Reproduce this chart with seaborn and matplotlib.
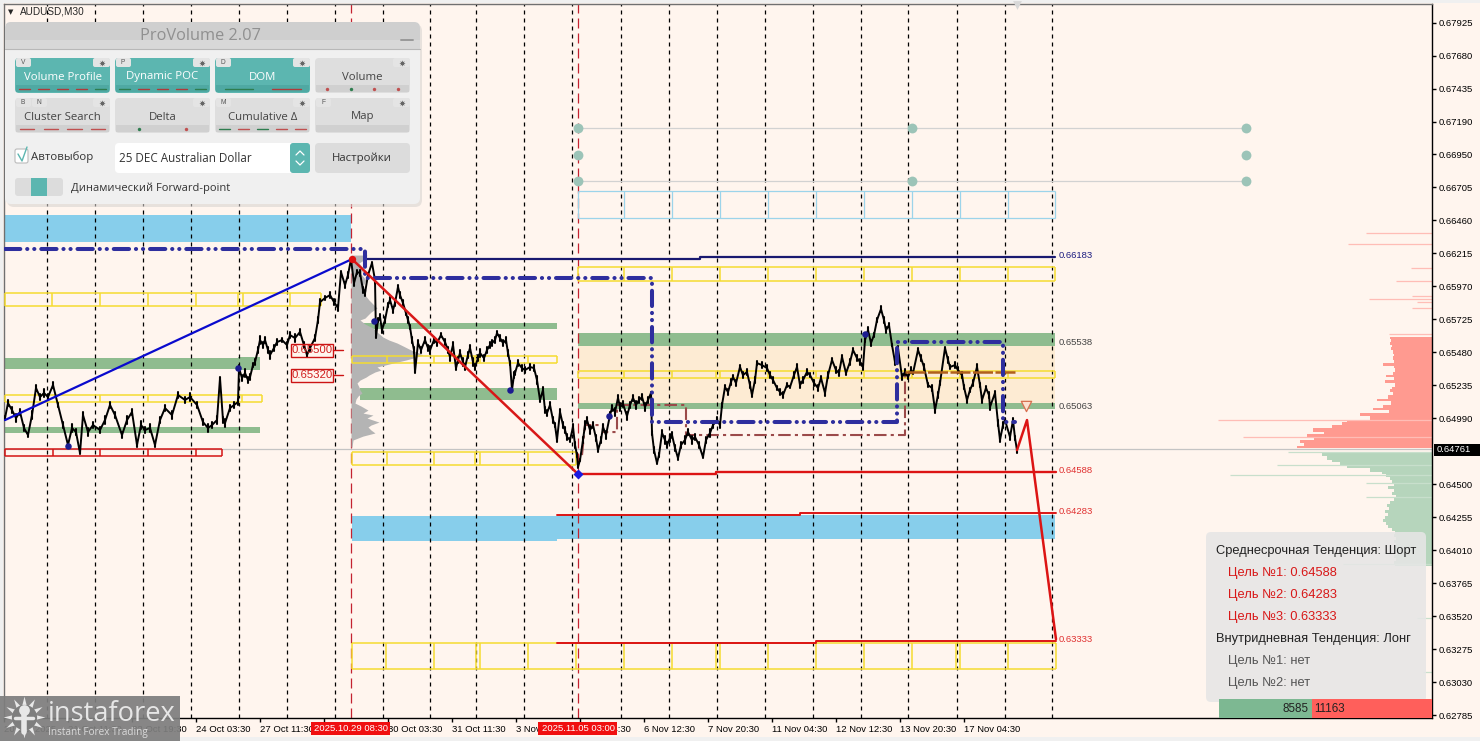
import numpy as np
import pandas as pd
import matplotlib
matplotlib.use("Agg")
import matplotlib.pyplot as plt
from matplotlib.patches import FancyBboxPatch, Rectangle
import seaborn as sns

# ---- price series (bar position, close) ----
bar_x = [5,8,12,16,20,24,28,32,36,40,44,48,53,58,63,68,72,76,80,83,88,93,100,105,110,115,122,127,132,137,141,145,150,155,160,165,172,178,185,190,197,203,208,212,217,220,223,225,230,234,238,
         239,242,245,248,250,253,255,258,260,263,265,268,270,274,277,282,287,290,295,300,304,307,310,315,318,320,325,330,334,338,341,345,348,351,
         354,357,360,363,365,368,372,375,376,378,380,382,385,388,390,393,395,398,400,403,406,408,410,412,414,415,418,421,425,428,430,434,437,441,445,448,450,453,456,458,460,463,465,468,470,473,475,478,480,484,487,490,492,495,497,500,503,506,508,510,512,514,515,518,522,525,530,534,537,540,543,545,547,550,553,555,557,560,563,565,567,570,573,575,577,578,
         580,583,585,587,590,593,596,598,601,603,606,610,612,615,618,620,623,627,630,633,636,639,642,645,648,651,652,654,657,659,662,665,667,670,672,675,678,681,685,688,692,695,699,703,706,710,713,717,720,722,725,728,731,733,736,740,743,747,750,752,755,757,762,767,770,773,777,780,783,787,790,794,797,800,803,807,810,814,818,821,825,828,832,836,839,842,846,850,853,857,860,863,865,868,871,874,877,881,884,886,889,892,895,898,902,905,908,911,913,918,921,924,928,932,935,938,940,945,948,950,955,958,962,964,967,970,973,977,980,982,986,989,990,995,998,1000,1003,1005,1010,1013,1015,1017]
close = [.64990,.65101,.65049,.64990,.65035,.64916,.64864,.65012,.65213,.65146,.65176,.65146,.65235,.65087,.64938,.64790,.64916,.64886,.64730,.65012,.64886,.64938,.64901,.64975,.65087,.65012,.64864,.64975,.65035,.64790,.64938,.64901,.64916,.64790,.64975,.65064,.65012,.65161,.65124,.65146,.65087,.64960,.64916,.64938,.64975,.65287,.64975,.64953,.65064,.65087,.65109,
         .65361,.65287,.65324,.65272,.65294,.65383,.65406,.65495,.65569,.65532,.65569,.65495,.65458,.65510,.65554,.65569,.65532,.65606,.65584,.65629,.65532,.65458,.65510,.65584,.65718,.65851,.65881,.65903,.65851,.65807,.66074,.65977,.66052,.66170,
         .65992,.66074,.66067,.65940,.65918,.66052,.66141,.66015,.65591,.65718,.65740,.65643,.65718,.65829,.65866,.65792,.65844,.65963,.65903,.65844,.65770,.65718,.65666,.65569,.65495,.65332,.65547,.65495,.65569,.65510,.65495,.65569,.65547,.65606,.65554,.65495,.65443,.65532,.65361,.65421,.65473,.65406,.65369,.65458,.65510,.65406,.65369,.65435,.65473,.65435,.65495,.65532,.65547,.65569,.65621,.65584,.65547,.65569,.65473,.65398,.65198,.65309,.65324,.65398,.65361,.65346,.65369,.65361,.65272,.65124,.65198,.65049,.65027,.65087,.64975,.64938,.64827,.65035,.64938,.64901,.64849,.64827,.64923,.64790,.64715,.64626,
         .64678,.64827,.64938,.64975,.64901,.64938,.64842,.64752,.64827,.64923,.64864,.65012,.65064,.65035,.65139,.65072,.65094,.65005,.65087,.65139,.65087,.65124,.65146,.65072,.65124,.65176,.64879,.64752,.64656,.64715,.64879,.64827,.64790,.64842,.64864,.64768,.64693,.64790,.64827,.64886,.64827,.64849,.64790,.64700,.64827,.64879,.64938,.64975,.64938,.65087,.65220,.65183,.65258,.65294,.65250,.65369,.65309,.65332,.65235,.65161,.65272,.65398,.65383,.65361,.65309,.65272,.65213,.65183,.65161,.65235,.65220,.65309,.65369,.65235,.65272,.65332,.65309,.65250,.65213,.65287,.65176,.65309,.65421,.65346,.65324,.65443,.65324,.65406,.65495,.65435,.65406,.65369,.65569,.65643,.65547,.65606,.65718,.65799,.65718,.65643,.65680,.65532,.65406,.65510,.65294,.65332,.65294,.65346,.65324,.65495,.65435,.65369,.65235,.65213,.65049,.65161,.65250,.65510,.65421,.65369,.65383,.65346,.65309,.65220,.65124,.65198,.65250,.65369,.65235,.65124,.65213,.65161,.65072,.65176,.64953,.64827,.64938,.64975,.64849,.64975,.64842,.64752]
# candle half range per bar, in points (x 1e-5)
wick = [15,20,25,30,20,25,15,30,20,25,30,20,25,15,25,20,30,25,10,25,30,20,25,30,20,25,20,30,25,15,30,25,30,15,25,20,30,20,25,30,25,20,30,25,30,10,25,30,20,25,20,
        20,25,30,20,25,15,20,25,30,25,20,25,30,20,25,15,25,20,30,20,25,15,25,20,20,25,15,25,20,25,10,25,20,10,
        20,15,25,20,25,15,10,20,10,15,25,20,25,15,20,25,20,15,25,20,15,20,15,20,25,10,20,25,20,25,30,20,25,15,25,20,30,25,15,25,20,30,25,20,25,30,20,25,30,25,20,25,20,25,15,20,25,20,25,15,10,20,15,20,25,20,25,20,30,15,25,20,20,25,20,15,15,20,25,20,25,15,20,25,15,10,
        10,20,30,25,30,25,20,15,25,20,30,25,20,30,25,30,25,30,25,20,30,25,20,30,25,10,15,20,10,15,25,30,25,30,25,20,15,25,30,25,30,25,20,10,25,30,25,20,25,15,15,25,20,15,20,15,20,25,20,15,25,15,25,20,25,20,15,25,20,15,10,20,25,20,25,20,15,25,20,15,25,20,15,25,20,15,15,25,15,20,25,20,15,20,25,15,15,20,25,20,15,10,20,15,20,25,15,20,10,15,20,25,15,20,25,20,15,10,20,15,25,20,25,15,20,15,20,25,15,20,15,25,20,15,20,15,25,15,20,15,15,20,15,20,25,15,20,15]

# axis ticks
price_ticks = [.67925,.67680,.67435,.67190,.66950,.66705,.66460,.66215,.65970,.65725,.65480,.65235,.64990,.64500,.64255,.64010,.63765,.63520,.63275,.63030,.62785]
date_pos = [4,68,132,196,260,324,388,452,516,580,644,708,772,836,900,964]
date_labels = ["20 Oct 2025","21 Oct 11:30","22 Oct 19:30","24 Oct 03:30","27 Oct 11:30","28 Oct 19:30","30 Oct 03:30","31 Oct 11:30",
               "3 Nov 19:30","5 Nov 04:30","6 Nov 12:30","7 Nov 20:30","11 Nov 04:30","12 Nov 12:30","13 Nov 20:30","17 Nov 04:30"]
grid_x = [47,95,143,191,239,287,335,383,430,476,524,572,621,669,717,765,813,861,908,957,1005,1052]
session_x = [351,578]
session_labels = ["2025.10.29 08:30","2025.11.05 03:00"]
last_price = 0.64761

# trend paths
up_x, up_y = [5,352], [.64975,.66170]
down_x, down_y = [352,578], [.66170,.64574]
fc_x, fc_y = [1017,1027,1056], [.64752,.64975,.63348]
poc_x = [5,365,365,380,652,652,897,897,1003,1003,1015]
poc_y = [.66245,.66245,.66029,.66029,.66029,.64960,.64960,.65554,.65554,.64960,.64960]
dpoc_x = [582,585,603,603,617,617,686,686,905,905]
dpoc_y = [.64715,.64938,.64938,.64886,.64886,.65087,.65087,.64864,.64864,.65331]
vwap_x, vwap_y = [905,1015], [.65331,.65331]

# target levels
navy_x, navy_y = [365,700,700,1055], [.66170,.66170,.66183,.66183]
t1_x, t1_y = [578,716,716,1056], [.64574,.64574,.64588,.64588]
t2_x, t2_y = [557,800,800,1056], [.64270,.64270,.64283,.64283]
t3_x, t3_y = [557,816,816,1056], [.63320,.63320,.63333,.63333]
level_labels = ["0.66183","0.65538","0.65063","0.64588","0.64283","0.63333"]
level_pos = [.66198,.65552,.65078,.64602,.64298,.63348]
level_cols = ["#1c1c80","#444444","#444444","#e03030","#e03030","#e03030"]

# zones: x0, x1, low, high
blue_zones = [(5,351,.66297,.66497),(352,557,.64077,.64262),(557,1055,.64092,.64270)]
green_zones = [(5,238,.65354,.65435),(238,260,.65346,.65442),(5,260,.64879,.64923),(360,557,.65651,.65695),(360,557,.65124,.65213),
               (578,1055,.65525,.65621),(578,1055,.65057,.65101)]
cream_zone = (578,1055,.65101,.65525)

# yellow / blue / red box rows
row_a = [5,52,100,148,196,238,243,290,321]
row_b = [5,100,148,238,242,262]
row_c = [352,387,434,475,480,528,557]
row_d = [352,387,434,475,480,528,576]
row_e = [578,624,672,720,768,816,864,912,960,1008,1055]
row_f = [578,624,672,716,720,768,816,864,912,960,1008,1055]
row_g = [352,386,434,476,480,528,576,624,672,716,720,768,816,864,912,956,960,1008,1056]
row_h = [578,624,672,720,768,816,864,912,960,1008,1055]
row_red = [5,53,100,148,196,222]

# grey volume profile at the 29 Oct session
prof_price = [.66200,.66170,.66141,.66104,.66059,.66015,.65970,.65940,.65903,.65866,.65836,.65807,.65777,.65755,.65732,.65718,.65688,.65658,.65629,.65591,.65569,.65547,.65525,.65495,.65473,.65458,.65435,.65421,.65398,.65369,.65346,.65332,.65309,.65294,.65272,.65250,.65220,.65198,.65176,.65153,.65131,.65101,.65079,.65049,.65027,.65012,.64990,.64960,.64938,.64923,.64901,.64879,.64856,.64827,.64775]
prof_vol = [16,14,8,12,10,15,12,15,14,18,22,26,20,17,14,9,14,22,26,32,38,46,52,60,68,72,62,55,42,26,30,24,18,15,9,6,8,9,11,7,5,4,10,17,12,22,16,28,20,17,20,24,12,2,1]

# DOM on the right edge
ask_price = [.65591,.65569,.65547,.65525,.65503,.65480,.65458,.65436,.65413,.65391,.65369,.65347,.65324,.65302,.65280,.65258,.65235,.65213,.65191,.65169,.65146,.65124,.65102,.65079,.65057,.65035,.65013,.64990,.64968,.64946,.64924,.64901,.64879,.64857,.64835,.64812,.64790,.64768]
ask_size = [42,41,42,40,41,39,38,39,38,49,38,37,39,46,38,47,37,40,42,39,44,55,41,49,59,43,72,62,85,90,100,119,108,125,118,132,128,135]
ask_spike_p = [.66363,.66282,.66104,.66007,.65873,.65896,.65807,.65851,.65614,.64975,.64849]
ask_spike_s = [66,84,21,36,63,20,20,15,43,214,189]
bid_price = [.64738,.64716,.64693,.64671,.64649,.64627,.64604,.64582,.64560,.64538,.64515,.64493,.64471,.64449,.64426,.64404,.64382,.64360,.64337,.64315,.64293,.64271,.64248,.64226,.64204,.64182,.64159,.64137,.64115,.64093,.64070,.64048,.64026,.64004,.63981,.63959,.63937,.63915,.63892]
bid_size = [116,110,105,100,92,85,62,50,46,42,40,38,44,38,40,36,38,42,45,43,47,44,47,49,46,44,40,37,38,36,38,36,38,36,35,38,36,38,37]
bid_spike_p = [.64738,.64641,.64567,.64507,.64404,.63906,.63505,.63104]
bid_spike_s = [144,155,202,66,66,89,15,9]
dom_totals = [8585,11163]

# misc marks
dot_x = [68,238,374,510,609,865]
dot_y = [.64782,.65361,.65710,.65198,.65005,.65613]
ctrl_x = [578,912,1246,578,1246,578,912,1246]
ctrl_y = [.67143,.67143,.67143,.66943,.66943,.66750,.66750,.66750]

sns.set_theme(style="white")
plt.rcParams['font.family'] = ['Liberation Sans', 'DejaVu Sans']
bg = "#FFF5EE"
fig = plt.figure(figsize=(14.8, 7.41), dpi=100, facecolor=bg)
ax = fig.add_axes([4/1480, 1-718/741, 1428/1480, 714/741], facecolor=bg)
ax.set_xlim(4, 1432)
ax.set_ylim(0.62763, 0.68064)

for x0, x1, lo, hi in blue_zones:
    ax.fill_between([x0,x1], lo, hi, color="#87CEEB", lw=0, zorder=1)
ax.fill_between(cream_zone[:2], cream_zone[2], cream_zone[3], color="#FDEBD3", lw=0, zorder=1)
for x0, x1, lo, hi in green_zones:
    ax.fill_between([x0,x1], lo, hi, color="#8FBC8F", lw=0, zorder=1)

ax.vlines(grid_x, 0.62763, 0.68064, color="black", lw=0.9, linestyles=(0,(3.2,3.2)), zorder=2)
ax.vlines(session_x, 0.62763, 0.68064, color="#C42230", lw=0.9, linestyles=(0,(8,4)), zorder=2)
ax.axhline(last_price, color="#C4C4C4", lw=0.9, zorder=2)

# ctrl lines and dots
ax.hlines([.67143,.66750], 578, 1246, color="#D2D2D2", lw=0.9, zorder=2)
ax.scatter(ctrl_x, ctrl_y, s=50, color="#9CC4B8", lw=0, zorder=3)

# volume profile
ax.fill_betweenx(prof_price, 351, np.array(prof_vol)+351, color="#B4B4B4", lw=0, zorder=2)

# right hand DOM
ax.fill_betweenx(ask_price, 1432-np.array(ask_size), 1432, step="mid", color="#FF9A90", lw=0, zorder=2)
ax.fill_betweenx(bid_price, 1432-np.array(bid_size), 1432, step="mid", color="#B6D5BC", lw=0, zorder=2)
ax.hlines(ask_spike_p, 1432-np.array(ask_spike_s), 1432, color="#FFBDB6", lw=0.9, zorder=2)
ax.hlines(bid_spike_p, 1432-np.array(bid_spike_s), 1432, color="#C8DFCC", lw=0.9, zorder=2)

def box_row(breaks, lo, hi, col, lw=1.1):
    ax.hlines([lo,hi], breaks[0], breaks[-1], color=col, lw=lw, zorder=3)
    ax.vlines(breaks, lo, hi, color=col, lw=lw, zorder=3)

yel = "#F5DC30"
box_row(row_a, .65822, .65918, yel)
box_row(row_b, .65109, .65161, yel)
box_row(row_c, .65398, .65450, yel)
box_row(row_d, .64641, .64738, yel)
box_row(row_e, .66007, .66111, yel)
box_row(row_f, .65287, .65339, yel)
box_row(row_g, .63127, .63320, yel)
box_row(row_h, .66475, .66675, "#9CD4EA", lw=0.9)
box_row(row_red, .64708, .64760, "#D41414")

# price
sns.lineplot(x=bar_x, y=close, color="black", lw=1.4, sort=False, estimator=None, errorbar=None, ax=ax, zorder=5)
for xx, cc, ww in zip(bar_x, close, wick):
    ax.plot([xx,xx],[cc-ww*1e-5,cc+ww*1e-5],color="black",lw=1.5,zorder=5)

# levels
ax.plot(navy_x, navy_y, color="#191970", lw=1.6, zorder=4)
ax.plot(t1_x, t1_y, color="#DC1414", lw=1.7, zorder=4)
ax.plot(t2_x, t2_y, color="#DC1414", lw=1.4, zorder=4)
ax.plot(t3_x, t3_y, color="#DC1414", lw=1.4, zorder=4)
for s, p, c in zip(level_labels, level_pos, level_cols):
    ax.text(1059, p, s, fontsize=6.8, color=c, va="center", zorder=6)

ax.plot(dpoc_x, dpoc_y, color="#9B4A4A", lw=1.5, ls=(0,(6,2,1.5,2)), zorder=4)
ax.plot(vwap_x, vwap_y, color="#B0601C", lw=1.8, ls=(0,(8,1)), zorder=5)
ax.plot(poc_x, poc_y, color="#2E2E9E", lw=2.9, ls=(0,(3.8,1.7,0.05,1.7,0.05,1.7)), dash_capstyle="round", zorder=6)
ax.plot(up_x, up_y, color="#0A0ACD", lw=1.6, zorder=7)
ax.plot(down_x, down_y, color="#D81818", lw=1.8, zorder=7)
ax.plot(fc_x, fc_y, color="#DC1414", lw=1.8, zorder=7)
ax.scatter(dot_x, dot_y, s=22, color="#1C1C90", lw=0, zorder=8)
ax.scatter([352], [.66170], s=28, color="#E01010", lw=0, zorder=9)
ax.scatter([578], [.64574], s=26, marker="D", color="#1A1AE0", lw=0, zorder=9)
ax.scatter([1026], [.65080], s=55, marker="v", facecolor="#FDE0D0", edgecolor="#D87050", lw=0.9, zorder=8)

ax.yaxis.tick_right()
ax.set_yticks(price_ticks)
ax.set_yticklabels([f"{p:.5f}" for p in price_ticks], fontsize=6.8, color="black")
ax.set_xticks(date_pos)
ax.set_xticklabels(date_labels, fontsize=6.8, ha="left", color="black")
ax.tick_params(axis="both", which="major", length=3, width=1, color="black", pad=2, bottom=True, right=True)
for s in ax.spines.values():
    s.set_color("black")
    s.set_linewidth(1)
ax.spines["top"].set_color("#707070")
ax.spines["left"].set_color("#707070")

# ---- overlay in screen pixels: terminal window furniture ----
ui = fig.add_axes([0,0,1,1], facecolor="none")
ui.set_xlim(0,1480)
ui.set_ylim(741,0)
ui.axis("off")

ui.add_patch(Rectangle((0,737),1480,4,color="#F0F0F0",lw=0))
ui.add_patch(Rectangle((0,0),1480,3,color="#F0F0F0",lw=0))
ui.add_patch(Rectangle((0,0),3,741,color="#F0F0F0",lw=0))
ui.text(8,12,"▼",fontsize=5,va="center",family=["DejaVu Sans"])
ui.text(20,12,"AUDUSD,M30",fontsize=7.2,va="center")
ui.scatter([1017],[5],s=40,marker="v",color="#D8D8D8",lw=0)

# last price tag + session labels
ui.add_patch(Rectangle((1434,444),46,12,color="black",lw=0))
ui.text(1437,450,"0.64761",color="white",fontsize=6.8,va="center")
for x, s in zip(session_x, session_labels):
    ui.add_patch(Rectangle((x-40,722),79,13,color="#F01010",lw=0))
    ui.text(x,728.5,s,color="white",fontsize=6.8,ha="center",va="center")

# small price tags
for y, s in zip([350,375],["0.65500","0.65320"]):
    ui.add_patch(Rectangle((291,y-6.5),42,13,fc="none",ec="#CC1414",lw=1))
    ui.text(312,y,s,color="#D02020",fontsize=8.2,ha="center",va="center")
    ui.plot([333,343],[y,y],color="#CC1414",lw=1)

def rbox(x0,y0,x1,y1,col,r=3,**kw):
    ui.add_patch(FancyBboxPatch((x0+r,y0+r),x1-x0-2*r,y1-y0-2*r,boxstyle=f"round,pad={r},rounding_size={r}",fc=col,ec=kw.pop("ec","none"),lw=kw.pop("lw",0),**kw))

# target panel
rbox(1206,532,1426,702,"#E6E6E6",r=5,alpha=0.88)
panel_y = [551,573,595,617,639,661,683]
panel_x = [1216,1228,1228,1228,1216,1228,1228]
panel_txt = ["Среднесрочная Тенденция: Шорт","Цель №1: 0.64588","Цель №2: 0.64283","Цель №3: 0.63333","Внутридневная Тенденция: Лонг","Цель №1: нет","Цель №2: нет"]
panel_col = ["#222222","#D81818","#D81818","#D81818","#222222","#555555","#555555"]
for x, y, s, c in zip(panel_x, panel_y, panel_txt, panel_col):
    ui.text(x,y,s,color=c,fontsize=9.25,va="center")

# DOM totals bar, width follows totals
tot = sum(dom_totals)
split = 1219 + (1432-1219)*dom_totals[0]/tot
ui.add_patch(Rectangle((1219,699),split-1219,19,color="#7DB892",lw=0))
ui.add_patch(Rectangle((split,699),1432-split,19,color="#FF5F5B",lw=0))
ui.text(split-3,709,str(dom_totals[0]),ha="right",va="center",fontsize=8.4,color="#222222")
ui.text(split+3,709,str(dom_totals[1]),ha="left",va="center",fontsize=8.4,color="#222222")

# ---- ProVolume panel ----
rbox(7,24,422,207,"#D8D4D0",r=7,alpha=0.6)
rbox(5,22,420,204,"#F0F0F0",r=6)
rbox(5,22,420,49,"#CFCFCF",r=6)
ui.add_patch(Rectangle((5,40),415,9,color="#D8D8D8",lw=0))
ui.plot([5,420],[49,49],color="#B8B8B8",lw=0.8)
ui.text(200,36,"ProVolume 2.07",color="#909090",fontsize=11.8,ha="center",va="center",family=["Open Sans"])
ui.plot([401,413],[40,40],color="#999999",lw=1.4)

teal = "#5CB6B0"
def button(x0,x1,y0,y1,label,col,tag,marks):
    rbox(x0,y0,x1,y1,col,r=4)
    ui.add_patch(Rectangle((x0+1,y1-8),x1-x0-2,7,color=("#4FA9A3" if col==teal else "#D0D0D0"),lw=0))
    tc = "white" if col==teal else "#444444"
    ui.text((x0+x1)/2,y0+19,label,color=tc,fontsize=8.2,ha="center",va="center",family=["Open Sans"])
    n = 0
    for t in tag:
        rbox(x0+1+n*16,y0,x0+16+n*16,y0+9,"#E4E4E4",r=2)
        ui.text(x0+8+n*16,y0+4.5,t,fontsize=4.8,color="#555555",ha="center",va="center")
        n += 1
    rbox(x1-17,y0,x1,y0+9,"#E4E4E4",r=2)
    ui.scatter([x1-8.5],[y0+4.5],s=20,marker=(8,1,0),color="#666666",lw=0)
    w = (x1-x0)/max(len(marks),1)
    for i, m in enumerate(marks):
        cx = x0+w*(i+.5)
        if m[1]=="-":
            ui.plot([cx-w*.3,cx+w*.3],[y1-4,y1-4],color=m[0],lw=1)
        else:
            ui.scatter([cx],[y1-4],s=6,color=m[0],lw=0)

r = "#B03A3A"; g = "#2E7D4F"; rd = "#C05050"
button(15,110,58,93,"Volume Profile",teal,["V"],[(r,"-"),(r,"-"),(r,"-"),(r,"-"),(g,"-")])
button(115,210,58,93,"Dynamic POC",teal,["P"],[(g,"-"),(r,"-"),(r,"-"),(r,"-"),(g,"-")])
button(215,310,58,93,"DOM",teal,["D"],[(g,"-"),(r,"-")])
button(315,410,58,93,"Volume","#DEDEDE",[],[(rd,"."),(g,"."),(rd,"."),(rd,".")])
button(15,110,98,133,"Cluster Search","#DEDEDE",["B","N"],[(rd,"-"),(rd,"-"),(rd,"-"),(rd,"-")])
button(115,210,98,133,"Delta","#DEDEDE",[],[(g,"."),(rd,".")])
button(215,310,98,133,"Cumulative Δ","#DEDEDE",["M"],[(g,"-"),(rd,"-"),(g,"-"),(rd,"-"),(rd,"-")])
button(315,410,98,133,"Map","#DEDEDE",["F"],[])

rbox(15,149,28,163,"white",r=2,ec="#BBBBBB",lw=0.8)
ui.plot([18,22,27],[154,161,147],color=teal,lw=1)
ui.text(31,157,"Автовыбор",fontsize=8.2,color="#333333",va="center",family=["Open Sans"])
rbox(115,143,310,173,"white",r=4)
rbox(290,143,310,173,teal,r=3)
ui.plot([296,300,304],[155,151,155],color="white",lw=0.9)
ui.plot([296,300,304],[161,165,161],color="white",lw=0.9)
ui.text(119,158.5,"25 DEC Australian Dollar",fontsize=8.4,color="#333333",va="center",family=["Open Sans"])
rbox(315,143,410,173,"#DCDCDC",r=4)
ui.text(362,158.5,"Настройки",fontsize=8.2,color="#333333",ha="center",va="center",family=["Open Sans"])
rbox(15,178,63,196,"#DCDCDC",r=3)
ui.add_patch(Rectangle((31,178),16,18,color=teal,lw=0))
ui.text(71,188,"Динамический Forward-point",fontsize=8,color="#333333",va="center",family=["Open Sans"])

# ---- watermark ----
ui.add_patch(Rectangle((0,696),180,45,color="#7E7E7E",lw=0,alpha=0.93))
ui.scatter([24],[717],s=900,marker=(12,1,0),color="#E8E8E8",lw=0)
ui.scatter([24],[717],s=330,color="#7E7E7E",lw=0)
ui.scatter([24],[710],s=60,color="#E8E8E8",lw=0)
ui.plot([24,24],[712,732],color="#E8E8E8",lw=4)
ui.plot([15,33],[718,718],color="#E8E8E8",lw=2.5)
ui.text(48,714,"instaforex",color="#E6E6E6",fontsize=19.6,va="center",family=["Open Sans"])
ui.text(48,733,"Instant Forex Trading",color="#DADADA",fontsize=7.2,va="center",family=["Open Sans"])

fig.savefig("out.png", dpi=100, facecolor=bg)
